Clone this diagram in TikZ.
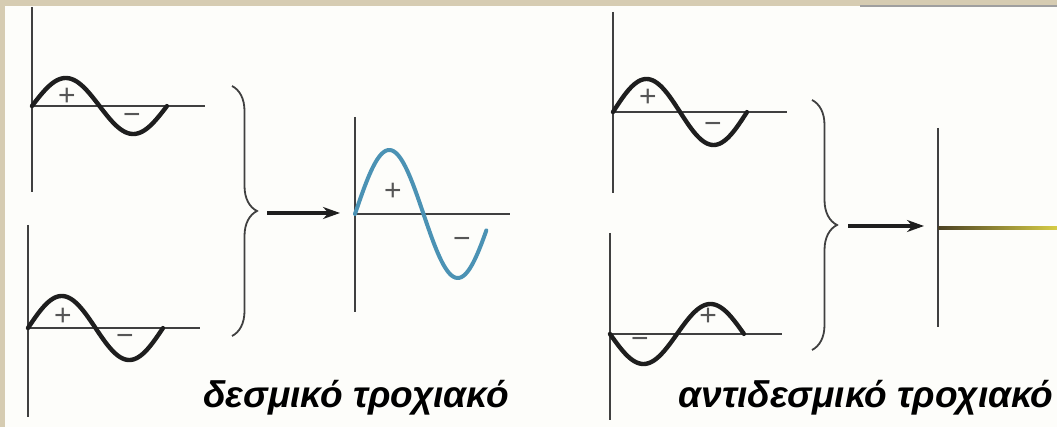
\documentclass[tikz,border=0pt]{standalone}
\usepackage{fontspec}
\setmainfont{Liberation Sans}
\usetikzlibrary{arrows.meta,decorations.pathreplacing}
\definecolor{paper}{RGB}{253,253,250}
\definecolor{frame}{RGB}{214,204,178}
\definecolor{wblue}{RGB}{75,146,180}
\definecolor{ink}{RGB}{30,30,30}
\definecolor{olive}{RGB}{75,65,35}
\definecolor{ylw}{RGB}{215,205,70}
\tikzset{
  axis/.style={draw=ink!85, line width=2.2pt},
  wave/.style={draw=ink, line width=4.4pt, line cap=round, line join=round},
  bwave/.style={draw=wblue, line width=4pt, line cap=round, line join=round},
  sign/.style={font=\fontsize{30}{30}\selectfont, text=ink!75, inner sep=0pt},
  bracestyle/.style={draw=ink!85, line width=1.8pt, decorate,
    decoration={brace, amplitude=25pt, aspect=0.5}},
  arrowstyle/.style={draw=ink, line width=3.4pt, -{Stealth[length=17pt,width=12pt]}},
  caption/.style={font=\fontsize{37}{40}\selectfont\bfseries\itshape, inner sep=0pt, anchor=base}
}
\begin{document}
\begin{tikzpicture}[x=1pt,y=-1pt]
\useasboundingbox (0,0) rectangle (1057,427);
\fill[frame] (0,0) rectangle (1057,427);
\fill[paper] (5,6) rectangle (1057,427);
\draw[gray!75, line width=2pt] (860,6.5) -- (1057,6.5);

% ---------- left: bonding ----------
\coordinate (a1t) at (32,7); \coordinate (a1b) at (32,192);
\draw[axis] (a1t) -- (a1b);
\coordinate (h1l) at (32,106); \coordinate (h1r) at (205,106);
\draw[axis] (h1l) -- (h1r);
\draw[wave] plot[domain=0:1, samples=80, smooth] ({32+135*\x},{106-28*sin(360*\x)});
\node[sign] (p1) at (67,97) {+};
\node[sign] (m1) at (132,119) {−};

\coordinate (a2t) at (28,225); \coordinate (a2b) at (28,417);
\draw[axis] (a2t) -- (a2b);
\coordinate (h2l) at (28,328); \coordinate (h2r) at (200,328);
\draw[axis] (h2l) -- (h2r);
\draw[wave] plot[domain=0:1, samples=80, smooth] ({28+135*\x},{328-32*sin(360*\x)});
\node[sign] (p2) at (63,317) {+};
\node[sign] (m2) at (125,340) {−};

\coordinate (b1t) at (232,86); \coordinate (b1b) at (232,336);
\draw[bracestyle] (b1t) -- (b1b);
\coordinate (r1s) at (267,213); \coordinate (r1e) at (340,213);
\draw[arrowstyle] (r1s) -- (r1e);

\coordinate (a3t) at (355,117); \coordinate (a3b) at (355,312);
\draw[axis] (a3t) -- (a3b);
\coordinate (h3l) at (355,214); \coordinate (h3r) at (510,214);
\draw[axis] (h3l) -- (h3r);
\draw[bwave] plot[domain=0:0.96, samples=90, smooth] ({355+137*\x},{214-64*sin(360*\x)});
\node[sign] (p3) at (393,192) {+};
\node[sign] (m3) at (462,243) {−};

\node[caption] (c1) at (356,407) {δεσμικό τροχιακό};

% ---------- right: antibonding ----------
\coordinate (a4t) at (613,12); \coordinate (a4b) at (613,193);
\draw[axis] (a4t) -- (a4b);
\coordinate (h4l) at (613,112); \coordinate (h4r) at (787,112);
\draw[axis] (h4l) -- (h4r);
\draw[wave] plot[domain=0:1, samples=80, smooth] ({613+134*\x},{112-33*sin(360*\x)});
\node[sign] (p4) at (648,98) {+};
\node[sign] (m4) at (713,128) {−};

\coordinate (a5t) at (610,233); \coordinate (a5b) at (610,420);
\draw[axis] (a5t) -- (a5b);
\coordinate (h5l) at (610,334); \coordinate (h5r) at (782,334);
\draw[axis] (h5l) -- (h5r);
\draw[wave] plot[domain=0:1, samples=80, smooth] ({610+134*\x},{334+30*sin(360*\x)});
\node[sign] (m5) at (640,343) {−};
\node[sign] (p5) at (708,317) {+};

\coordinate (b2t) at (812,100); \coordinate (b2b) at (812,350);
\draw[bracestyle] (b2t) -- (b2b);
\coordinate (r2s) at (848,226); \coordinate (r2e) at (924,226);
\draw[arrowstyle] (r2s) -- (r2e);

\coordinate (a6t) at (938,128); \coordinate (a6b) at (938,327);
\draw[axis] (a6t) -- (a6b);
\shade[left color=olive, right color=ylw] (938,226.4) rectangle (1057,229.6);

\node[caption] (c2) at (866,407) {αντιδεσμικό τροχιακό};
\end{tikzpicture}
\end{document}
